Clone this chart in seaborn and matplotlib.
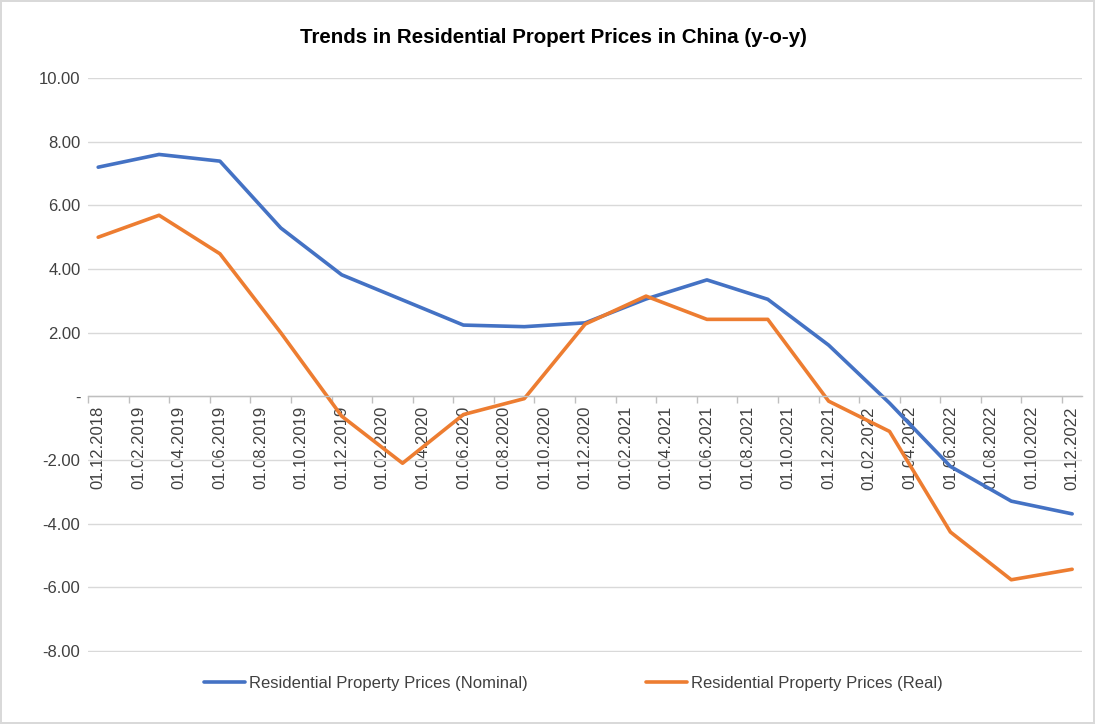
# plot.py
# Tendencias de precos residenciais na China (y-o-y), estilo grafico do Excel.

import pandas as pd
import matplotlib
matplotlib.use("Agg")
import matplotlib.pyplot as plt
from matplotlib.ticker import FixedLocator, FuncFormatter
import seaborn as sns

# --- Dados --- #
datas = ["01.12.2018", "01.03.2019", "01.06.2019", "01.09.2019", "01.12.2019",
         "01.03.2020", "01.06.2020", "01.09.2020", "01.12.2020", "01.03.2021",
         "01.06.2021", "01.09.2021", "01.12.2021", "01.03.2022", "01.06.2022",
         "01.09.2022", "01.12.2022"]
nominal = [7.20, 7.60, 7.39, 5.29, 3.82, 3.03, 2.24, 2.19, 2.31, 3.06,
           3.66, 3.05, 1.61, -0.21, -2.20, -3.29, -3.69]
real = [5.00, 5.69, 4.48, 2.00, -0.62, -2.10, -0.57, -0.07, 2.27, 3.15,
        2.42, 2.42, -0.15, -1.10, -4.26, -5.76, -5.43]

rotulos_x = ["01.12.2018", "01.02.2019", "01.04.2019", "01.06.2019", "01.08.2019",
             "01.10.2019", "01.12.2019", "01.02.2020", "01.04.2020", "01.06.2020",
             "01.08.2020", "01.10.2020", "01.12.2020", "01.02.2021", "01.04.2021",
             "01.06.2021", "01.08.2021", "01.10.2021", "01.12.2021", "01.02.2022",
             "01.04.2022", "01.06.2022", "01.08.2022", "01.10.2022", "01.12.2022"]
ticks_y = [-8, -6, -4, -2, 0, 2, 4, 6, 8, 10]

SERIE_NOM = "Residential Property Prices (Nominal)"
SERIE_REAL = "Residential Property Prices (Real)"
TITULO = "Trends in Residential Propert Prices in China (y-o-y)"


def mes_indice(data):
    # meses desde dez/2018 (eixo de categorias mensais, como no Excel)
    dia, mes, ano = data.split(".")
    return (int(ano) - 2018) * 12 + int(mes) - 12


def formato_contabil(v, pos):
    if abs(v) < 1e-9:
        return "-"
    return f"{v:,.2f}"


def main():
    df = pd.DataFrame({
        "mes": [mes_indice(d) for d in datas] * 2,
        "valor": nominal + real,
        "serie": [SERIE_NOM] * len(nominal) + [SERIE_REAL] * len(real),
    })

    sns.set_theme(style="white")
    plt.rcParams["font.family"] = ["Liberation Sans", "DejaVu Sans"]

    fig = plt.figure(figsize=(10.95, 7.24), dpi=100)
    fig.patch.set_edgecolor("#D9D9D9")
    fig.patch.set_linewidth(1.5)
    ax = fig.add_axes([0.0804, 0.0994, 0.908, 0.7928])

    sns.lineplot(data=df, x="mes", y="valor", hue="serie",
                 palette={SERIE_NOM: "#4472C4", SERIE_REAL: "#ED7D31"},
                 linewidth=2.6, ax=ax, legend=True)

    ax.set_xlim(-0.5, 48.5)
    ax.set_ylim(-8.03, 10.0)

    # grade horizontal
    ax.yaxis.set_major_locator(FixedLocator(ticks_y))
    ax.yaxis.set_major_formatter(FuncFormatter(formato_contabil))
    ax.grid(axis="y", color="#D9D9D9", linewidth=1.0)
    ax.grid(axis="x", visible=False)
    ax.set_axisbelow(True)

    # eixo x passando pelo zero
    for lado in ["left", "right", "top"]:
        ax.spines[lado].set_visible(False)
    ax.spines["bottom"].set_position(("data", 0))
    ax.spines["bottom"].set_color("#BFBFBF")
    ax.spines["bottom"].set_linewidth(1.0)

    pos_rotulos = [mes_indice(r) for r in rotulos_x]
    ax.set_xticks(pos_rotulos)
    ax.set_xticklabels(rotulos_x, rotation=90, fontsize=12, color="#404040")
    ax.set_xticks([p - 0.5 for p in pos_rotulos], minor=True)
    ax.tick_params(axis="x", which="major", length=0, pad=7)
    ax.tick_params(axis="x", which="minor", length=5, width=1.0,
                   color="#BFBFBF", direction="out", bottom=True)
    ax.tick_params(axis="y", length=0, pad=5.5, labelsize=12, labelcolor="#404040")

    ax.set_xlabel("")
    ax.set_ylabel("")

    fig.text(0.505, 0.948, TITULO, ha="center", va="center", fontsize=14.8,
             fontweight="bold", color="#000000")

    handles, labels = ax.get_legend_handles_labels()
    ax.legend(handles, labels, loc="center", bbox_to_anchor=(0.488, -0.055),
              ncol=2, frameon=False, handlelength=2.45, handletextpad=0.25,
              columnspacing=7.1, prop={"size": 12}, labelcolor="#404040")

    fig.savefig("out.png", dpi=100)
    plt.close(fig)


if __name__ == "__main__":
    main()
